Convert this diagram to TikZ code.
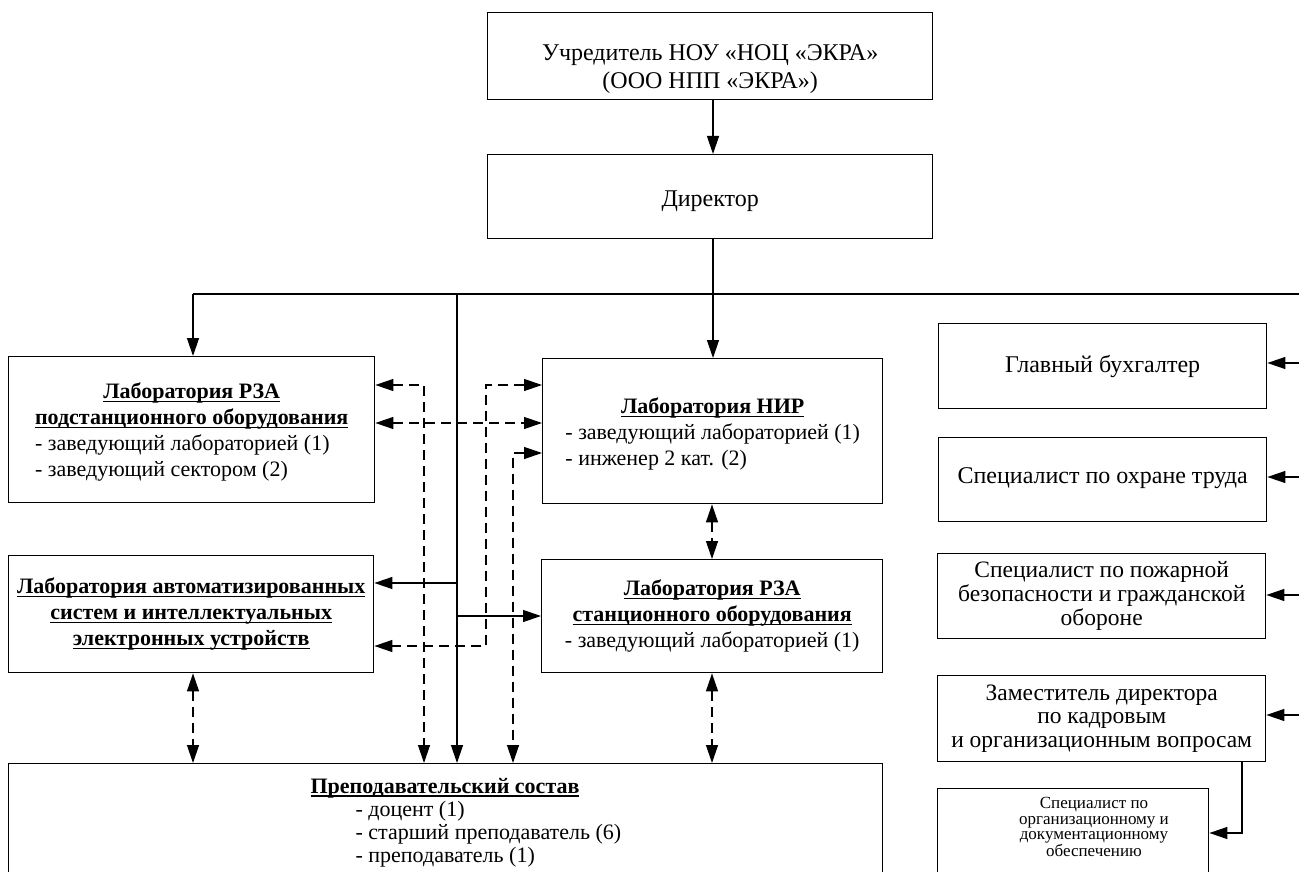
\documentclass[tikz,border=0pt]{standalone}
\usepackage{fontspec}
\setmainfont{Liberation Serif}
\newsavebox\ttlbox
\newcommand\labttl[1]{\sbox\ttlbox{\textbf{#1}}\rlap{\rule[-3.5pt]{\wd\ttlbox}{1.3pt}}\usebox\ttlbox}
\usetikzlibrary{arrows.meta}
\begin{document}
\begin{tikzpicture}[x=1pt,y=-1pt,
  box/.style={draw, line width=1.4pt, rectangle, inner sep=0pt, anchor=north west},
  txt/.style={font=\fontsize{22}{26}\selectfont, align=center},
  bigtxt/.style={font=\fontsize{24}{24}\selectfont, align=center},
  con/.style={line width=1.3pt, -{Triangle[length=18pt,width=12pt]}},
  dcon/.style={line width=1.3pt, dash pattern=on 10pt off 6pt, {Triangle[length=18pt,width=12pt]}-{Triangle[length=18pt,width=12pt]}},
  plainline/.style={line width=1.3pt}]
\useasboundingbox (0,0) rectangle (1299,872);

% top boxes
\node[box, bigtxt, minimum width=445pt, minimum height=87pt, font=\fontsize{24}{28}\selectfont] (uchr) at (487,12)
  {\raisebox{-13pt}[\height][\depth]{\begin{tabular}{@{}c@{}}Учредитель НОУ «НОЦ «ЭКРА»\\(ООО НПП «ЭКРА»)\end{tabular}}};
\node[box, bigtxt, minimum width=445pt, minimum height=84pt] (dir) at (487,154)
  {\raisebox{-4pt}[\height][\depth]{Директор}};

% laboratories
\node[box, txt, minimum width=366pt, minimum height=146pt] (labsub) at (8,356)
  {\raisebox{-3pt}[\height][\depth]{\begin{tabular}{@{}l@{}}\multicolumn{1}{@{}c@{}}{\labttl{Лаборатория РЗА}}\\
   \multicolumn{1}{@{}c@{}}{\labttl{подстанционного оборудования}}\\
   - заведующий лабораторией (1)\\- заведующий сектором (2)\end{tabular}}};
\node[box, txt, minimum width=340pt, minimum height=145pt] (nir) at (542,358)
  {\raisebox{-3pt}[\height][\depth]{\begin{tabular}{@{}l@{}}\multicolumn{1}{@{}c@{}}{\labttl{Лаборатория НИР}}\\
   - заведующий лабораторией (1)\\- инженер 2 кат. (2)\end{tabular}}};
\node[box, txt, minimum width=365pt, minimum height=117pt] (labauto) at (8,555)
  {\begin{tabular}{@{}c@{}}\labttl{Лаборатория автоматизированных}\\
   \labttl{систем и интеллектуальных}\\\labttl{электронных устройств}\end{tabular}};
\node[box, txt, minimum width=341pt, minimum height=113pt] (station) at (541,559)
  {\begin{tabular}{@{}l@{}}\multicolumn{1}{@{}c@{}}{\labttl{Лаборатория РЗА}}\\
   \multicolumn{1}{@{}c@{}}{\labttl{станционного оборудования}}\\
   - заведующий лабораторией (1)\end{tabular}};

% teaching staff
\node[box, minimum width=874pt, minimum height=130pt] (prep) at (8,763) {};
\node[txt] (preptitle) at (445,788) {\labttl{Преподавательский состав}};
\node[font=\fontsize{22}{23}\selectfont, align=left, anchor=west] (preplist) at (352,834)
  {- доцент (1)\\- старший преподаватель (6)\\- преподаватель (1)};

% right column
\node[box, bigtxt, minimum width=328pt, minimum height=85pt] (glav) at (938,323) {Главный бухгалтер};
\node[box, bigtxt, minimum width=328pt, minimum height=84pt] (okh) at (938,437)
  {\raisebox{2pt}[\height][\depth]{Специалист по охране труда}};
\node[box, bigtxt, minimum width=328pt, minimum height=85pt, font=\fontsize{23.5}{24}\selectfont] (pozh) at (937,553)
  {Специалист по пожарной\\безопасности и гражданской\\обороне};
\node[box, bigtxt, minimum width=328pt, minimum height=86pt, font=\fontsize{23.5}{23.5}\selectfont] (zam) at (937,675)
  {Заместитель директора\\по кадровым\\и организационным вопросам};
\node[box, minimum width=271pt, minimum height=100pt] (spec) at (937,788) {};
\node[font=\fontsize{17}{15.7}\selectfont, align=center] (spectxt) at (1094,827)
  {Специалист по\\организационному и\\документационному\\обеспечению};

% solid connectors
\coordinate (tx) at (713,0);
\draw[con] (uchr.south -| tx) -- (dir.north -| tx);
\draw[con] (dir.south -| tx) -- (nir.north -| tx);
\coordinate (bl) at (193,294);
\coordinate (br) at (1299,294);
\draw[plainline] (bl) -- (br);
\draw[con] (bl) -- (labsub.north -| bl);
\coordinate (sv) at (457,294);
\draw[con] (sv) -- (sv |- prep.north);
\coordinate (sa) at (457,583);
\draw[con] (sa) -- (labauto.east |- sa);
\coordinate (sb) at (457,616);
\draw[con] (sb) -- (station.west |- sb);
\coordinate (r1) at (1299,363);
\coordinate (r2) at (1299,477);
\coordinate (r3) at (1299,595);
\coordinate (r4) at (1299,715);
\draw[con] (r1) -- (glav.east |- r1);
\draw[con] (r2) -- (okh.east |- r2);
\draw[con] (r3) -- (pozh.east |- r3);
\draw[con] (r4) -- (zam.east |- r4);
\coordinate (zx) at (1242,833);
\draw[con] (zam.south -| zx) -- (zx) -- (spec.east |- zx);

% dashed connectors
\coordinate (d1) at (424,385);
\draw[dcon] (labsub.east |- d1) -- (d1) -- (d1 |- prep.north);
\coordinate (d2) at (0,423);
\draw[dcon] (labsub.east |- d2) -- (nir.west |- d2);
\coordinate (d3a) at (486,385);
\coordinate (d3b) at (486,646);
\draw[dcon] (nir.west |- d3a) -- (d3a) -- (d3b) -- (labauto.east |- d3b);
\coordinate (d4) at (513,453);
\draw[dcon] (nir.west |- d4) -- (d4) -- (d4 |- prep.north);
\coordinate (d5) at (193,0);
\draw[dcon] (labauto.south -| d5) -- (prep.north -| d5);
\coordinate (d6) at (712,0);
\draw[dcon] (nir.south -| d6) -- (station.north -| d6);
\draw[dcon] (station.south -| d6) -- (prep.north -| d6);
\end{tikzpicture}
\end{document}
